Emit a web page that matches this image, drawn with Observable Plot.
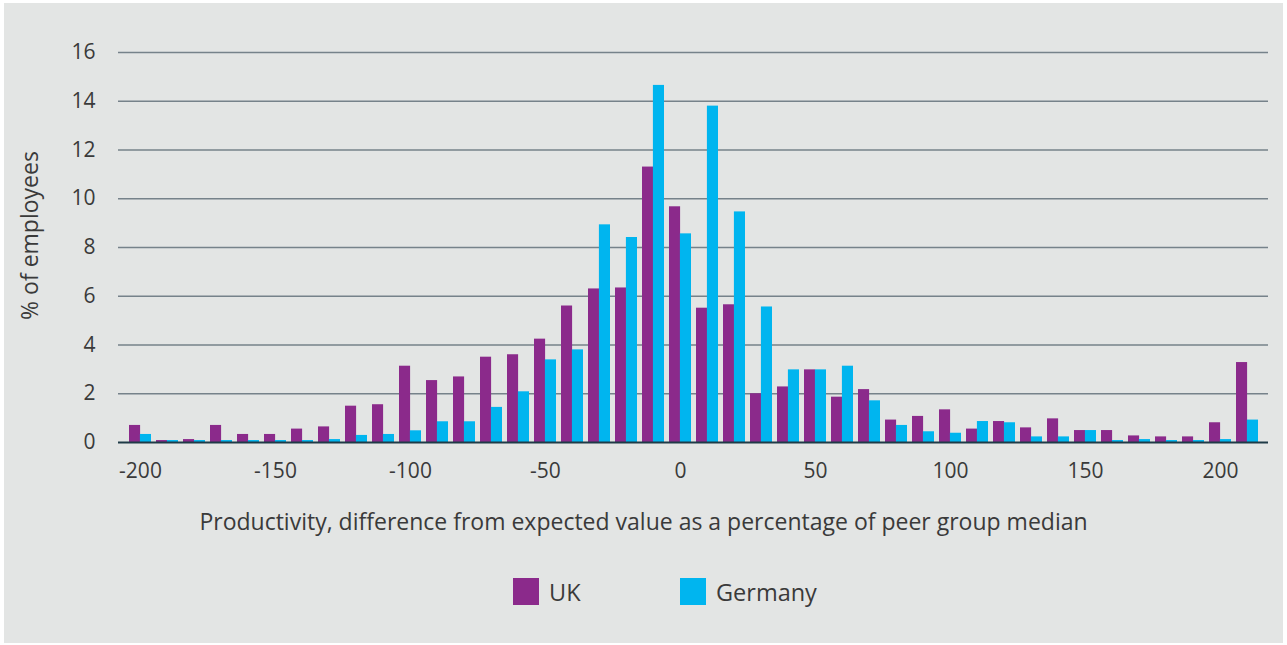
<!DOCTYPE html>
<html><head><meta charset="utf-8">
<script src="https://cdn.jsdelivr.net/npm/d3@7"></script>
<script src="https://cdn.jsdelivr.net/npm/@observablehq/plot@0.6"></script>
<style>
html,body{margin:0;padding:0;background:#ffffff;}
#panel{position:absolute;left:4px;top:3px;width:1279px;height:640px;background:#e3e5e4;font-family:"Open Sans",sans-serif;color:#3a3a3a;overflow:hidden}
#chart{position:absolute;left:0;top:0}
#xlabel{position:absolute;left:0;width:100%;top:503px;text-align:center;font-size:23px;line-height:30px}
.item{position:absolute;top:572px;height:33px;display:flex;align-items:center;font-size:23.5px}
.sw{width:26px;height:27px;margin-right:10px}
</style></head><body>
<div id="panel"><div id="chart"></div><div id="xlabel"></div><div id="legend"></div></div>
<script>
const bins = [-200,-190,-180,-170,-160,-150,-140,-130,-120,-110,-100,-90,-80,-70,-60,-50,-40,-30,-20,-10,0,10,20,30,40,50,60,70,80,90,100,110,120,130,140,150,160,170,180,190,200,210];
const ukValues = [0.70,0.08,0.12,0.70,0.33,0.33,0.55,0.64,1.49,1.55,3.13,2.54,2.69,3.50,3.60,4.24,5.60,6.30,6.34,11.30,9.67,5.51,5.65,2.00,2.28,2.98,1.86,2.17,0.92,1.07,1.34,0.55,0.86,0.60,0.97,0.49,0.49,0.27,0.23,0.23,0.81,3.28];
const germanyValues = [0.33,0.08,0.08,0.08,0.08,0.08,0.08,0.12,0.29,0.33,0.48,0.85,0.85,1.44,2.08,3.39,3.80,8.93,8.41,14.65,8.56,13.80,9.46,5.56,2.98,2.98,3.13,1.71,0.70,0.44,0.38,0.86,0.81,0.23,0.23,0.49,0.08,0.12,0.08,0.08,0.12,0.92];
const yTicks = [0,2,4,6,8,10,12,14,16];
const xTickLabels = [-200,-150,-100,-50,0,50,100,150,200];
const seriesNames = ["UK","Germany"];
const seriesColors = ["#8b2a8b","#00b5ef"];
const yLabel = "% of employees";
const xLabel = "Productivity, difference from expected value as a percentage of peer group median";

const W = 1279, H = 490;
const mL = 114, mR = 15, mT = 49, mB = 51;
const pad = 0.2;
const step = (W - mL - mR) / (bins.length - pad + 2 * pad);
const half = step * (1 - pad) / 2;

const ukData = bins.map((b, i) => ({bin: b, value: ukValues[i]}));
const deData = bins.map((b, i) => ({bin: b, value: germanyValues[i]}));

const chart = Plot.plot({
  width: W, height: H,
  marginLeft: mL, marginRight: mR, marginTop: mT, marginBottom: mB,
  style: {fontFamily: "Open Sans", fontSize: "21px", color: "#3a3a3a", background: "transparent", overflow: "visible"},
  x: {type: "band", domain: bins, padding: pad},
  y: {domain: [0, 16]},
  marks: [
    Plot.ruleY(yTicks.filter(d => d > 0), {stroke: "#76828a", strokeWidth: 1.5}),
    Plot.barY(ukData, {x: "bin", y: "value", fill: seriesColors[0], insetRight: half}),
    Plot.barY(deData, {x: "bin", y: "value", fill: seriesColors[1], insetLeft: half}),
    Plot.ruleY([0], {stroke: "#1f3b47", strokeWidth: 2}),
    Plot.axisX({ticks: xTickLabels, tickSize: 0, tickPadding: 21, tickFormat: d => String(d), label: null}),
    Plot.axisY({ticks: yTicks, tickSize: 0, tickPadding: 23, label: null}),
    Plot.text([yLabel], {text: d => d, frameAnchor: "left", textAnchor: "middle", rotate: -90, dx: -88, dy: -12, fontSize: 23, fill: "#3a3a3a"})
  ]
});
document.getElementById("chart").appendChild(chart);
document.getElementById("xlabel").textContent = xLabel;

const legend = document.getElementById("legend");
const lefts = [509, 676];
seriesNames.forEach((name, i) => {
  const item = document.createElement("div");
  item.className = "item";
  item.style.left = lefts[i] + "px";
  const sw = document.createElement("div");
  sw.className = "sw";
  sw.style.background = seriesColors[i];
  const t = document.createElement("span");
  t.textContent = name;
  item.appendChild(sw); item.appendChild(t);
  legend.appendChild(item);
});
</script>
</body></html>
